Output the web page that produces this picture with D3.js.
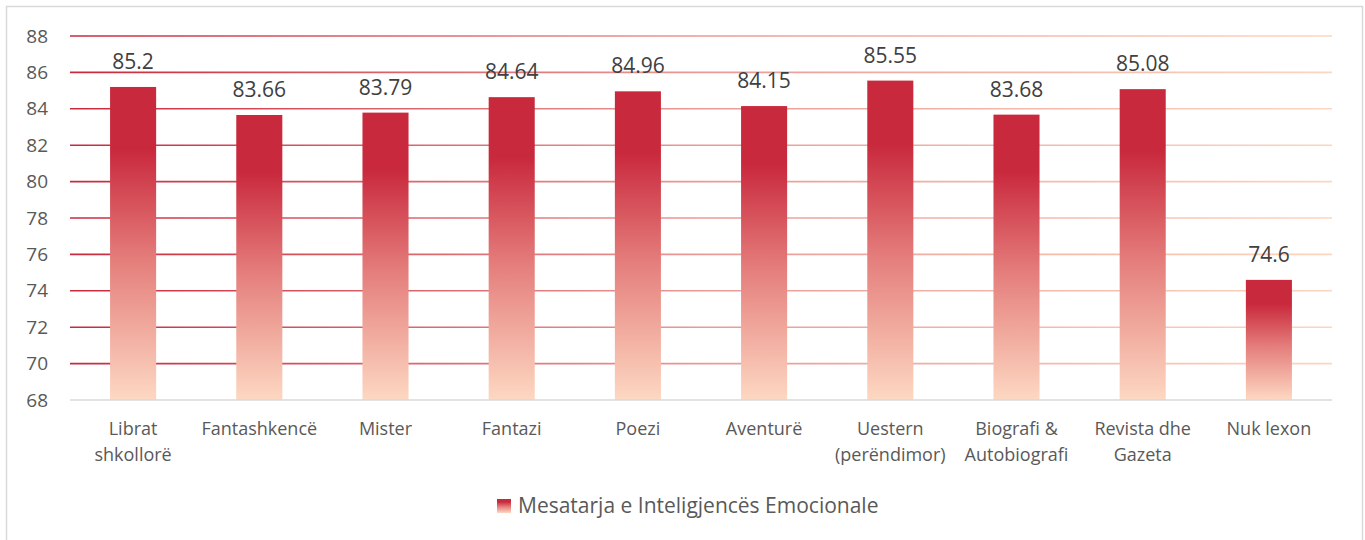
<!DOCTYPE html>
<html lang="sq">
<head>
<meta charset="utf-8">
<title>Mesatarja e Inteligjencës Emocionale</title>
<script src="https://d3js.org/d3.v7.min.js"></script>
<style>
  body { margin: 0; background: #fff; }
  svg text { font-family: "Open Sans", sans-serif; }
</style>
</head>
<body>
<div id="chart"></div>
<script>
// data
const categories = [["Librat", "shkollorë"], ["Fantashkencë"], ["Mister"], ["Fantazi"], ["Poezi"],
  ["Aventurë"], ["Uestern", "(perëndimor)"], ["Biografi &", "Autobiografi"], ["Revista dhe", "Gazeta"], ["Nuk lexon"]];
const values = [85.2, 83.66, 83.79, 84.64, 84.96, 84.15, 85.55, 83.68, 85.08, 74.6];
const yTicks = [68, 70, 72, 74, 76, 78, 80, 82, 84, 86, 88];
const seriesName = "Mesatarja e Inteligjencës Emocionale";

const width = 1365, height = 540;
const margin = { top: 36, right: 33, bottom: 140, left: 70 };

const svg = d3.select("#chart").append("svg")
  .attr("width", width)
  .attr("height", height);

const defs = svg.append("defs");

// vertical fade on the bars
const barGrad = defs.append("linearGradient")
  .attr("id", "barGrad")
  .attr("x1", 0).attr("y1", 0).attr("x2", 0).attr("y2", 1);
barGrad.append("stop").attr("offset", "0%").attr("stop-color", "#c9293d");
barGrad.append("stop").attr("offset", "20%").attr("stop-color", "#c9293d");
barGrad.append("stop").attr("offset", "55%").attr("stop-color", "#e47d7b");
barGrad.append("stop").attr("offset", "100%").attr("stop-color", "#fdd8c2");

// grid lines go from red on the left to peach on the right
const gridGrad = defs.append("linearGradient")
  .attr("id", "gridGrad")
  .attr("gradientUnits", "userSpaceOnUse")
  .attr("x1", margin.left).attr("y1", 0)
  .attr("x2", width - margin.right).attr("y2", 0);
gridGrad.append("stop").attr("offset", "0%").attr("stop-color", "#c9293d");
gridGrad.append("stop").attr("offset", "50%").attr("stop-color", "#ea9a95");
gridGrad.append("stop").attr("offset", "100%").attr("stop-color", "#fdd5c0");

// outer frame
svg.append("rect")
  .attr("x", 6.5).attr("y", 6.5)
  .attr("width", 1356).attr("height", 545)
  .attr("fill", "#fff")
  .attr("stroke", "#d9d9d9")
  .attr("stroke-width", 1.5);

const x = d3.scaleBand()
  .domain(d3.range(categories.length))
  .range([margin.left, width - margin.right])
  .paddingInner(0.635)
  .paddingOuter(0.3175);

const y = d3.scaleLinear()
  .domain([68, 88])
  .range([height - margin.bottom, margin.top]);

// grid
svg.append("g")
  .selectAll("line")
  .data(yTicks.slice(1))
  .join("line")
  .attr("x1", margin.left)
  .attr("x2", width - margin.right)
  .attr("y1", d => y(d))
  .attr("y2", d => y(d))
  .attr("stroke", "url(#gridGrad)")
  .attr("stroke-width", 1.6);

// y axis labels
const yAxis = svg.append("g")
  .attr("transform", `translate(${margin.left - 22},0)`)
  .call(d3.axisLeft(y).tickValues(yTicks).tickSize(0).tickPadding(0));
yAxis.select(".domain").remove();
yAxis.selectAll("text")
  .attr("fill", "#595959")
  .style("font-size", "19px");

// bars
svg.append("g")
  .selectAll("rect")
  .data(values)
  .join("rect")
  .attr("x", (d, i) => x(i))
  .attr("y", d => y(d))
  .attr("width", x.bandwidth())
  .attr("height", d => y(68) - y(d))
  .attr("fill", "url(#barGrad)");

// baseline
svg.append("line")
  .attr("x1", margin.left).attr("x2", width - margin.right)
  .attr("y1", y(68)).attr("y2", y(68))
  .attr("stroke", "#d9d9d9")
  .attr("stroke-width", 1.5);

// value labels
svg.append("g")
  .selectAll("text")
  .data(values)
  .join("text")
  .attr("x", (d, i) => x(i) + x.bandwidth() / 2)
  .attr("y", d => y(d) - 18)
  .attr("text-anchor", "middle")
  .attr("fill", "#404040")
  .style("font-size", "21px")
  .text(d => d);

// category labels
const catG = svg.append("g")
  .selectAll("text")
  .data(categories)
  .join("text")
  .attr("x", (d, i) => x(i) + x.bandwidth() / 2)
  .attr("y", 435)
  .attr("text-anchor", "middle")
  .attr("fill", "#595959")
  .style("font-size", "18px");
catG.selectAll("tspan")
  .data(d => d)
  .join("tspan")
  .attr("x", function () { return d3.select(this.parentNode).attr("x"); })
  .attr("dy", (d, i) => i === 0 ? 0 : 26)
  .text(d => d);

// legend
const legend = svg.append("g").attr("transform", "translate(497,499)");
legend.append("rect")
  .attr("width", 14).attr("height", 14)
  .attr("fill", "url(#barGrad)");
legend.append("text")
  .attr("x", 21).attr("y", 14)
  .attr("fill", "#595959")
  .style("font-size", "21px")
  .text(seriesName);
</script>
</body>
</html>
